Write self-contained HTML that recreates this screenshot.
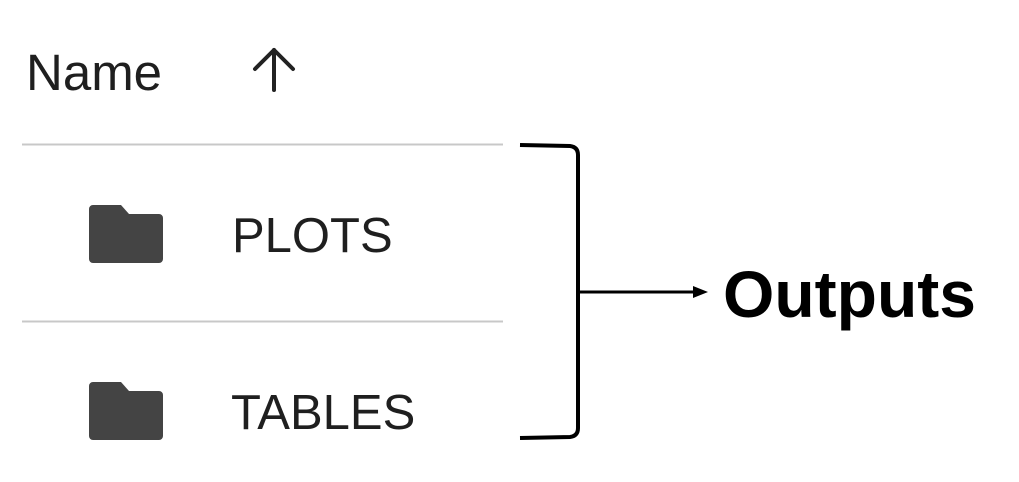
<!DOCTYPE html>
<html><head><style>
body{margin:0;width:1019px;height:482px;background:#fff;position:relative;overflow:hidden;font-family:"Liberation Sans",Arial,sans-serif}
.t{position:absolute;color:#1f1f1f;line-height:1;white-space:nowrap}
</style></head><body>
<div class="t" style="left:26px;top:47px;font-size:51px">Name</div>
<div class="t" style="left:232px;top:212px;font-size:49px">PLOTS</div>
<div class="t" style="left:231px;top:389px;font-size:49px">TABLES</div>
<div class="t" style="left:723px;top:261px;font-size:66px;font-weight:bold;color:#000">Outputs</div>
<svg width="1019" height="482" style="position:absolute;left:0;top:0">
<g stroke="#222" stroke-width="4" fill="none" stroke-linecap="round" stroke-linejoin="round">
<line x1="274" y1="90" x2="274" y2="50"/>
<polyline points="255,69 274,50 293,69"/>
</g>
<line x1="22" y1="144.5" x2="503" y2="144.5" stroke="#c8c8c8" stroke-width="2"/>
<line x1="22" y1="321.5" x2="503" y2="321.5" stroke="#c8c8c8" stroke-width="2"/>
<path d="M93,205 h28 l8,9 h30 a4,4 0 0 1 4,4 v41 a4,4 0 0 1 -4,4 h-66 a4,4 0 0 1 -4,-4 v-50 a4,4 0 0 1 4,-4z" fill="#444"/>
<path d="M93,382 h28 l8,9 h30 a4,4 0 0 1 4,4 v41 a4,4 0 0 1 -4,4 h-66 a4,4 0 0 1 -4,-4 v-50 a4,4 0 0 1 4,-4z" fill="#444"/>
<path d="M520,145 L570,146 Q578,147 578,155 L578,428 Q578,436 570,437 L520,438" stroke="#000" stroke-width="4" fill="none"/>
<line x1="578" y1="292" x2="695" y2="292" stroke="#000" stroke-width="3"/>
<polygon points="708,292 693,286 693,298" fill="#000"/>
</svg>
</body></html>
